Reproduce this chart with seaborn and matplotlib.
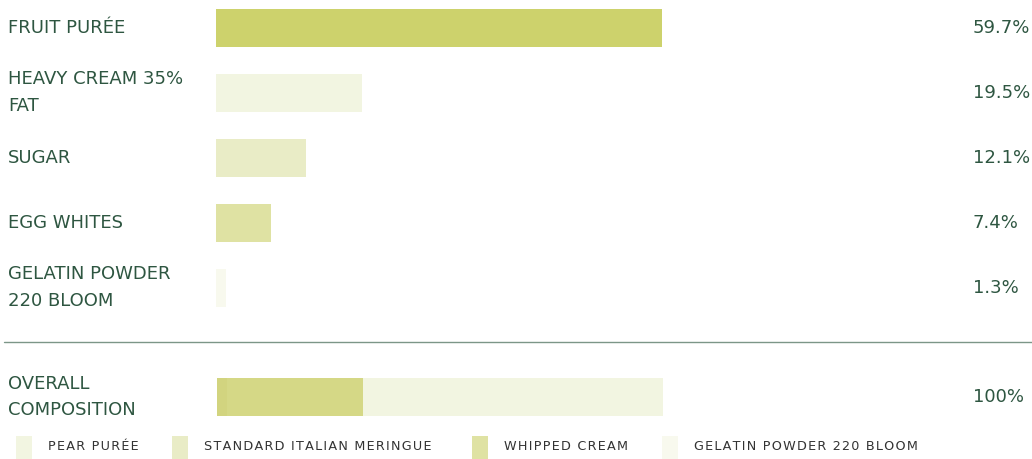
import matplotlib
matplotlib.use('Agg')
import matplotlib.pyplot as plt
import matplotlib.transforms as mtransforms
from matplotlib.patches import Rectangle
from matplotlib.lines import Line2D
import seaborn as sns

# dados
ingredientes = ['FRUIT PURÉE', 'HEAVY CREAM 35%\nFAT', 'SUGAR', 'EGG WHITES', 'GELATIN POWDER\n220 BLOOM']
percentuais = [59.7, 19.5, 12.1, 7.4, 1.3]
rotulos_pct = ['59.7%', '19.5%', '12.1%', '7.4%', '1.3%']
cores_barras = ['#cdd26c', '#f2f5e1', '#e9ecc6', '#dfe2a3', '#f8f9ee']

# barra geral (composição total)
partes_geral = [2.2, 30.5, 67.3]
cores_geral = ['#d2d47f', '#d5d886', '#f2f5e1']
rotulo_geral = 'OVERALL\nCOMPOSITION'
total_geral = '100%'

legenda_nomes = ['PEAR PURÉE', 'STANDARD ITALIAN MERINGUE', 'WHIPPED CREAM', 'GELATIN POWDER 220 BLOOM']
legenda_cores = ['#f2f5e1', '#e9ecc6', '#dfe2a3', '#f8f9ee']

sns.set_style('white')
plt.rcParams['font.family'] = ['DejaVu Sans']

W, H = 1032, 459
cor_texto = '#2e5641'
fs = 13
esp = 1.62


def fx(px):
    return px / W


def fy(py):
    return 1 - py / H


def espacado(s):
    # espaçamento entre letras (tracking) com hair space
    return '\u200a'.join(s)


fig = plt.figure(figsize=(W / 100, H / 100), dpi=100)

# barras dos ingredientes
top, bottom = -4.9, 320.1
ax = fig.add_axes([fx(216), fy(bottom), fx(662) - fx(216), (bottom - top) / H])
sns.barplot(x=percentuais, y=list(range(len(ingredientes))), orient='h',
            hue=list(range(len(ingredientes))), palette=cores_barras,
            legend=False, width=0.585, saturation=1, linewidth=0, ax=ax)
ax.set_xlim(0, max(percentuais))
ax.set_ylim(len(ingredientes) - 0.5, -0.5)
ax.axis('off')

trans = mtransforms.blended_transform_factory(fig.transFigure, ax.transData)
for i, (nome, pct) in enumerate(zip(ingredientes, rotulos_pct)):
    ax.text(fx(8), i, nome, transform=trans, ha='left', va='center',
            fontsize=fs, color=cor_texto, linespacing=esp)
    ax.text(fx(973), i, pct, transform=trans, ha='left', va='center',
            fontsize=fs, color=cor_texto)

# linha separadora
fig.add_artist(Line2D([fx(4), fx(1032)], [fy(342), fy(342)], color='#7c9688', lw=1))

# barra geral empilhada
ax2 = fig.add_axes([fx(217), fy(416), fx(663) - fx(217), 38 / H])
acumulado = [sum(partes_geral[:i + 1]) for i in range(len(partes_geral))]
for valor, cor in reversed(list(zip(acumulado, cores_geral))):
    sns.barplot(x=[valor], y=[0], orient='h', color=cor, width=1,
                saturation=1, linewidth=0, ax=ax2)
ax2.set_xlim(0, 100)
ax2.set_ylim(0.5, -0.5)
ax2.axis('off')
fig.text(fx(8), fy(397), rotulo_geral, ha='left', va='center',
         fontsize=fs, color=cor_texto, linespacing=esp)
fig.text(fx(973), fy(397), total_geral, ha='left', va='center',
         fontsize=fs, color=cor_texto)

# legenda
pos_patch = [16, 172, 472, 662]
for x0, nome, cor in zip(pos_patch, legenda_nomes, legenda_cores):
    fig.add_artist(Rectangle((fx(x0), fy(462)), 16 / W, 26 / H,
                             transform=fig.transFigure, color=cor, lw=0))
    fig.text(fx(x0 + 32), fy(447), espacado(nome), ha='left', va='center',
             fontsize=9.2, color='#333333')

fig.savefig('out.png', dpi=100)
